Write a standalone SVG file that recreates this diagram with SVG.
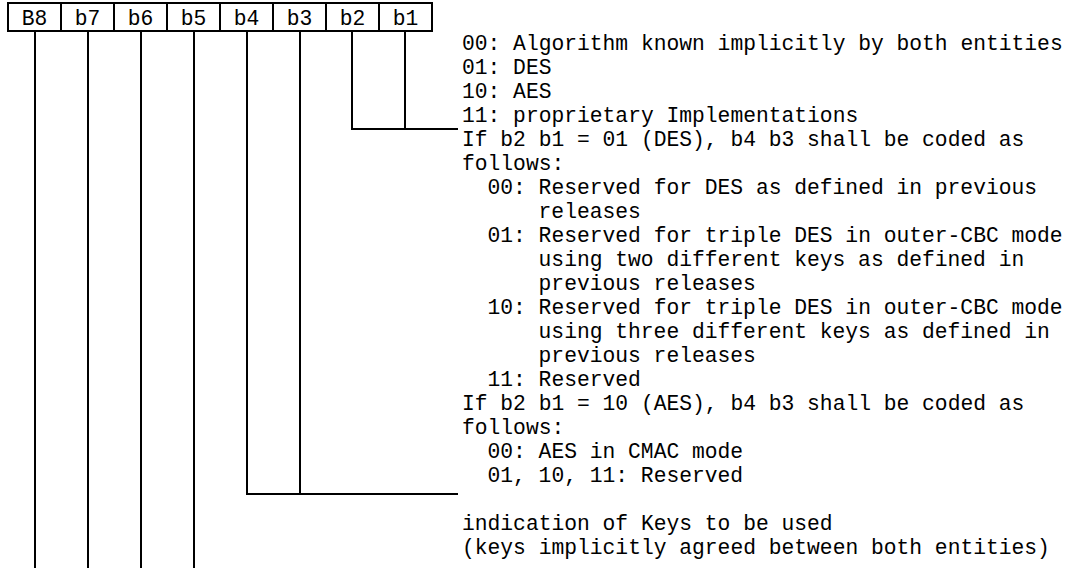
<svg xmlns="http://www.w3.org/2000/svg" width="1070" height="568" viewBox="0 0 1070 568">
<style>
text{font-family:"Liberation Mono","Courier New",monospace;font-size:21.3px;fill:#000}
.lbl{text-anchor:middle}
.box{fill:#fff;stroke:#000;stroke-width:2}
.ln{fill:none;stroke:#000;stroke-width:2}
</style>
<rect width="1070" height="568" fill="#fff"/>
<g id="register">
<g id="bit8"><rect class="box" x="8" y="3" width="53" height="28"/><text class="lbl" x="34.5" y="25">B8</text></g>
<g id="bit7"><rect class="box" x="61" y="3" width="53" height="28"/><text class="lbl" x="87.5" y="25">b7</text></g>
<g id="bit6"><rect class="box" x="114" y="3" width="53" height="28"/><text class="lbl" x="140.5" y="25">b6</text></g>
<g id="bit5"><rect class="box" x="167" y="3" width="53" height="28"/><text class="lbl" x="193.5" y="25">b5</text></g>
<g id="bit4"><rect class="box" x="220" y="3" width="53" height="28"/><text class="lbl" x="246.5" y="25">b4</text></g>
<g id="bit3"><rect class="box" x="273" y="3" width="53" height="28"/><text class="lbl" x="299.5" y="25">b3</text></g>
<g id="bit2"><rect class="box" x="326" y="3" width="53" height="28"/><text class="lbl" x="352.5" y="25">b2</text></g>
<g id="bit1"><rect class="box" x="379" y="3" width="53" height="28"/><text class="lbl" x="405.5" y="25">b1</text></g>
</g>
<g id="connectors">
<path class="ln" d="M405,31 V129 M352,31 V129 H458"/>
<path class="ln" d="M300,31 V494 M247,31 V494 H458"/>
<path class="ln" d="M194,31 V568 M141,31 V568 M88,31 V568 M35,31 V568"/>
</g>
<g id="desc-b2b1">
<text x="462" y="50">00: Algorithm known implicitly by both entities</text>
<text x="462" y="74">01: DES</text>
<text x="462" y="98">10: AES</text>
<text x="462" y="122">11: proprietary Implementations</text>
</g>
<g id="desc-b4b3">
<text x="462" y="146">If b2 b1 = 01 (DES), b4 b3 shall be coded as</text>
<text x="462" y="170">follows:</text>
<text x="487.5" y="194">00: Reserved for DES as defined in previous</text>
<text x="538.6" y="218">releases</text>
<text x="487.5" y="242">01: Reserved for triple DES in outer-CBC mode</text>
<text x="538.6" y="266">using two different keys as defined in</text>
<text x="538.6" y="290">previous releases</text>
<text x="487.5" y="314">10: Reserved for triple DES in outer-CBC mode</text>
<text x="538.6" y="338">using three different keys as defined in</text>
<text x="538.6" y="362">previous releases</text>
<text x="487.5" y="386">11: Reserved</text>
<text x="462" y="410">If b2 b1 = 10 (AES), b4 b3 shall be coded as</text>
<text x="462" y="434">follows:</text>
<text x="487.5" y="458">00: AES in CMAC mode</text>
<text x="487.5" y="482">01, 10, 11: Reserved</text>
</g>
<g id="desc-b8b5">
<text x="462" y="530">indication of Keys to be used</text>
<text x="462" y="554">(keys implicitly agreed between both entities)</text>
</g>
</svg>
